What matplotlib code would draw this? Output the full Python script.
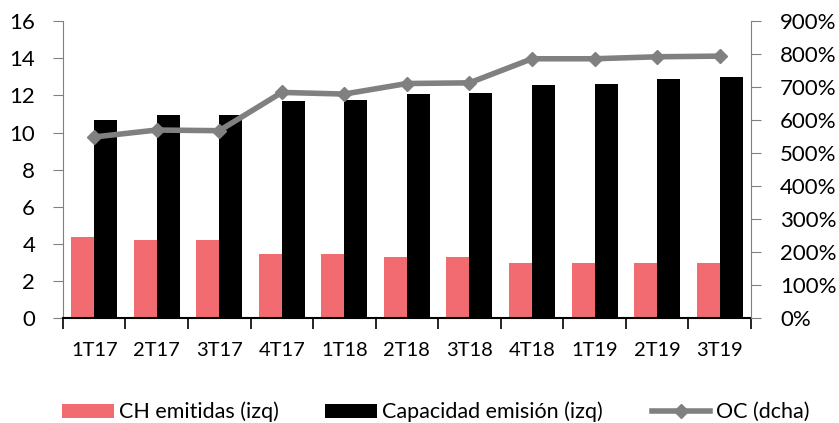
import matplotlib.pyplot as plt
import numpy as np
from matplotlib.ticker import FuncFormatter

plt.rcParams['font.family'] = ['Lato', 'DejaVu Sans']

trimestres = ["1T17", "2T17", "3T17", "4T17", "1T18", "2T18", "3T18", "4T18", "1T19", "2T19", "3T19"]
ch_emitidas = [4.35, 4.2, 4.2, 3.45, 3.45, 3.3, 3.3, 2.95, 2.95, 2.95, 2.95]
capacidad = [10.67, 10.92, 10.96, 11.69, 11.75, 12.08, 12.14, 12.57, 12.61, 12.86, 12.99]
oc = [549, 570, 568, 684, 679, 711, 713, 786, 786, 792, 794]

rojo = "#f26b70"
gris = "#808080"

fig = plt.figure(figsize=(8.39, 4.23), dpi=100)
ax = fig.add_axes([0.075, 0.248, 0.82, 0.702])
ax2 = ax.twinx()

x = np.arange(len(trimestres))
w = 0.368
b1 = ax.bar(x - w / 2, ch_emitidas, w, color=rojo, label="CH emitidas (izq)", zorder=2)
b2 = ax.bar(x + w / 2, capacidad, w, color="black", label="Capacidad emisión (izq)", zorder=2)
l1, = ax2.plot(x, oc, color=gris, lw=4, marker="D", ms=7, label="OC (dcha)", zorder=3)

ax.set_xlim(-0.5, len(trimestres) - 0.5)
ax.set_ylim(0, 16)
ax.set_yticks(range(0, 17, 2))
ax2.set_ylim(0, 900)
ax2.set_yticks(range(0, 901, 100))
ax2.yaxis.set_major_formatter(FuncFormatter(lambda v, p: f"{int(v)}%"))

# x ticks at category boundaries, labels in the middle
ax.set_xticks(np.arange(-0.5, len(trimestres), 1))
ax.set_xticklabels([])
ax.set_xticks(x, minor=True)
ax.set_xticklabels(trimestres, minor=True, fontsize=14.5)
ax.tick_params(axis="x", which="major", length=8, width=1.2, color="black", direction="out")
ax.tick_params(axis="x", which="minor", length=0, pad=17)

for s in ["top", "right"]:
    ax.spines[s].set_visible(False)
for s in ["top", "left", "bottom"]:
    ax2.spines[s].set_visible(False)
ax.spines["left"].set_color(gris)
ax.spines["bottom"].set_color("black")
ax.spines["bottom"].set_linewidth(1.5)
ax2.spines["right"].set_color(gris)
ax.tick_params(axis="y", length=7, color=gris, labelsize=16, pad=13)
ax2.tick_params(axis="y", length=7, color=gris, labelsize=16, pad=14)

ax.set_zorder(ax2.get_zorder() - 1)
ax2.patch.set_visible(False)

# three legend entries placed like the Excel legend
pos = [(62, 2.4), (325, 2.4), (652, 2.7)]
for h, (px, hl) in zip([b1, b2, l1], pos):
    fig.legend(handles=[h], loc="center left", bbox_to_anchor=(px / 839, 1 - 412 / 423),
               frameon=False, fontsize=15.5, handlelength=hl, handleheight=0.6,
               handletextpad=0.25, borderpad=0, borderaxespad=0)

fig.savefig("out.png", dpi=100)
